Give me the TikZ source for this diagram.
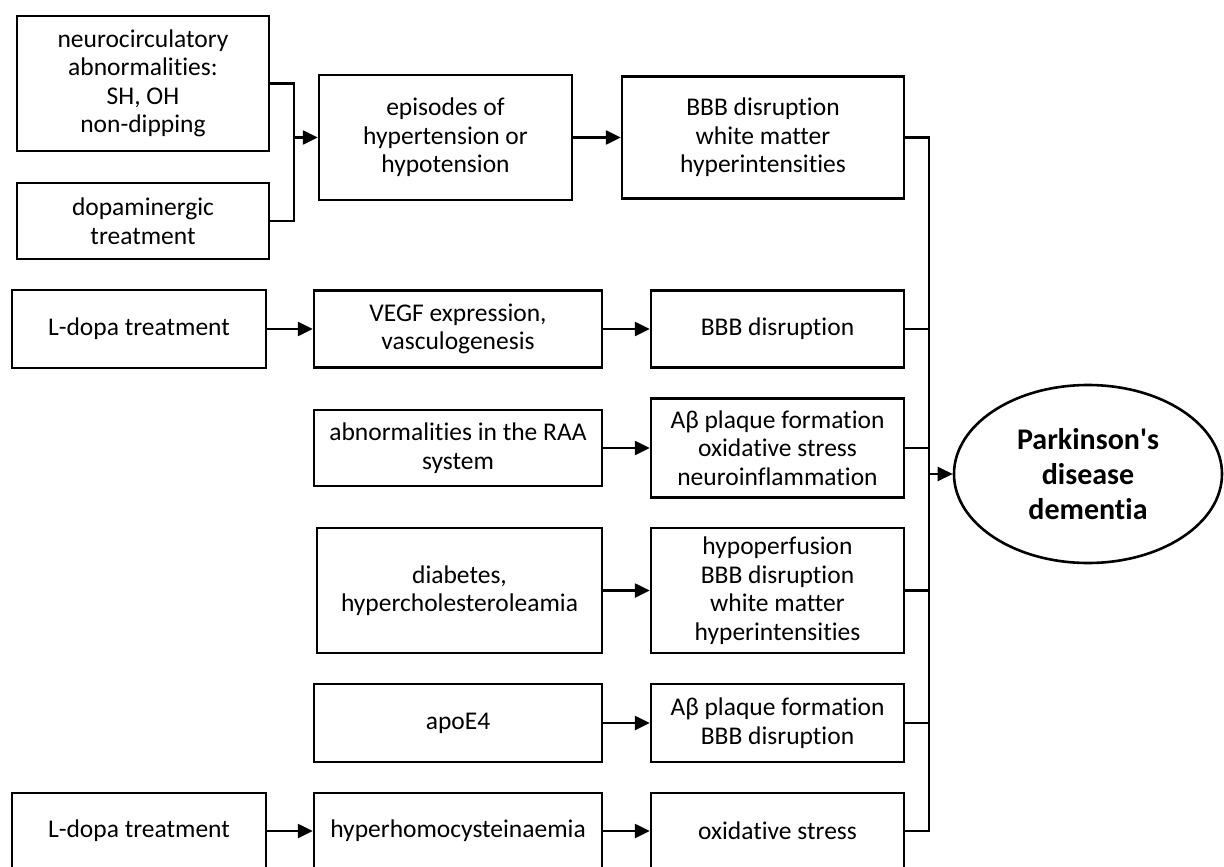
\documentclass[tikz,border=0pt]{standalone}
\usepackage{fontspec}
\setmainfont{Carlito}[Ligatures={NoCommon}]
\usetikzlibrary{arrows.meta,shapes.geometric}
\tikzset{
  box/.style={draw, line width=2.4pt, rectangle, inner sep=0pt, align=center,
    font=\fontsize{25.5}{28.5}\selectfont},
  goal/.style={draw, line width=2.6pt, ellipse, inner sep=0pt, align=center,
    minimum width=268pt, minimum height=178pt,
    font=\fontsize{30}{35}\selectfont\bfseries},
  conn/.style={line width=2.4pt},
  arr/.style={line width=2.4pt, -{Triangle[length=15pt,width=14pt]}},
}
\begin{document}
\begin{tikzpicture}[x=1pt,y=-1pt]
\useasboundingbox (0,0) rectangle (1224,867);
% row 1
\node[box, minimum width=252pt, minimum height=135pt] (n1) at (143,83.5) {neurocirculatory\\abnormalities:\\SH, OH\\non-dipping};
\node[box, minimum width=252pt, minimum height=76pt] (n2) at (143,221) {dopaminergic\\treatment};
\node[box, minimum width=253pt, minimum height=125pt] (n3) at (445.5,137.5) {episodes of\\hypertension or\\hypotension};
\node[box, minimum width=282pt, minimum height=122pt] (n4) at (763,137.5) {BBB disruption\\white matter\\hyperintensities};
% row 2
\node[box, minimum width=254pt, minimum height=78pt] (r2a) at (139,329) {L-dopa treatment};
\node[box, minimum width=288pt, minimum height=77pt] (r2b) at (458,329) {VEGF expression,\\vasculogenesis};
\node[box, minimum width=253pt, minimum height=77pt] (r2c) at (777.5,329) {BBB disruption};
% row 3
\node[box, minimum width=288pt, minimum height=76pt] (r3b) at (458,448) {abnormalities in the RAA\\system};
\node[box, minimum width=253pt, minimum height=99pt] (r3c) at (777.5,448) {Aβ plaque formation\\oxidative stress\\neuroinflammation};
% row 4
\node[box, minimum width=285pt, minimum height=125pt] (r4b) at (459.5,590.5) {diabetes,\\hypercholesteroleamia};
\node[box, minimum width=253pt, minimum height=125pt] (r4c) at (777.5,590.5) {hypoperfusion\\BBB disruption\\white matter\\hyperintensities};
% row 5
\node[box, minimum width=288pt, minimum height=78pt] (r5b) at (458,723) {apoE4};
\node[box, minimum width=253pt, minimum height=78pt] (r5c) at (777.5,723) {Aβ plaque formation\\BBB disruption};
% row 6
\node[box, minimum width=254pt, minimum height=76pt] (r6a) at (139,831) {L-dopa treatment};
\node[box, minimum width=288pt, minimum height=76pt] (r6b) at (458,831) {hyperhomocysteinaemia};
\node[box, minimum width=253pt, minimum height=76pt] (r6c) at (777.5,831) {oxidative stress};
% goal
\node[goal] (pdd) at (1088,474) {Parkinson\textquotesingle s\\disease\\dementia};
% junction coordinates
\coordinate (j1) at (294,137.5);
\coordinate (bus) at (929,474);
% connectors
\draw[conn] (n1.east) -| (j1) |- (n2.east);
\draw[arr] (j1) -- (n3.west);
\draw[arr] (n3.east) -- (n4.west);
\draw[arr] (r2a.east) -- (r2b.west);
\draw[arr] (r2b.east) -- (r2c.west);
\draw[arr] (r3b.east) -- (r3c.west);
\draw[arr] (r4b.east) -- (r4c.west);
\draw[arr] (r5b.east) -- (r5c.west);
\draw[arr] (r6a.east) -- (r6b.west);
\draw[arr] (r6b.east) -- (r6c.west);
% bus
\draw[conn] (n4.east) -- (n4.east -| bus) -- (r6c.east -| bus) -- (r6c.east);
\draw[conn] (r2c.east) -- (r2c.east -| bus);
\draw[conn] (r3c.east) -- (r3c.east -| bus);
\draw[conn] (r4c.east) -- (r4c.east -| bus);
\draw[conn] (r5c.east) -- (r5c.east -| bus);
\draw[arr] (bus) -- (pdd.west);
\end{tikzpicture}
\end{document}
